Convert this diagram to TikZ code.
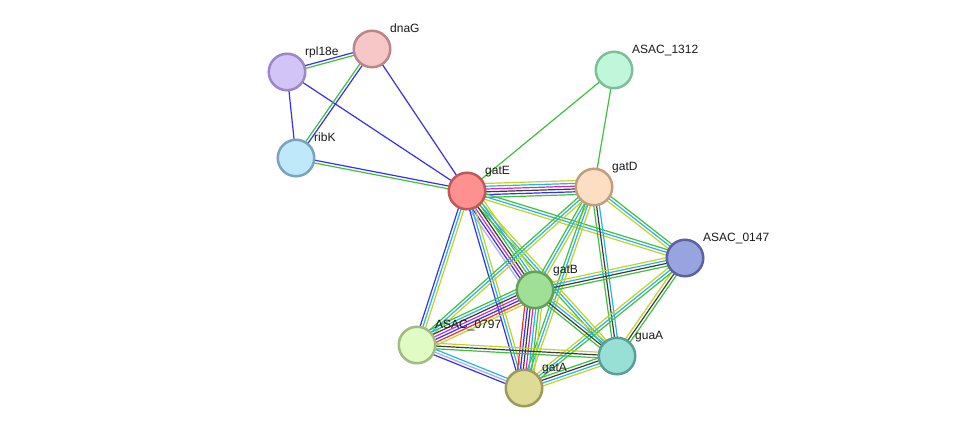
\documentclass[tikz,border=0pt]{standalone}
\usepackage{fontspec}
\setmainfont{Liberation Sans}
\usetikzlibrary{calc,backgrounds}
\definecolor{ng}{RGB}{62,192,62}
\definecolor{bl}{RGB}{50,50,240}
\definecolor{bk}{RGB}{60,60,60}
\definecolor{mg}{RGB}{210,40,210}
\definecolor{cy}{RGB}{40,180,220}
\definecolor{yg}{RGB}{190,212,40}
\definecolor{rd}{RGB}{250,40,40}
\definecolor{lv}{RGB}{170,170,250}
\tikzset{
  prot/.style={circle, minimum size=36.5pt, inner sep=0pt, line width=2.5pt},
  lbl/.style={anchor=base west, inner sep=0pt, font=\fontsize{12}{14}\selectfont, text=black!90},
  edge/.style={line width=1.2pt},
}
\newcommand\medge[3]{%
  \def\clist{#3}%
  \foreach \c [count=\i] in \clist {\xdef\ncount{\i}}%
  \foreach \c [count=\i] in \clist {%
    \pgfmathsetmacro\off{(\i-(\ncount+1)/2)*2.8}%
    \draw[edge,\c] ($(#1)!\off pt!90:(#2)$) -- ($(#2)!\off pt!-90:(#1)$);
  }}
\newcommand\prot[6]{%
  \definecolor{f#1}{HTML}{#4}\definecolor{d#1}{HTML}{#5}%
  \node[prot, fill=f#1, draw=d#1] (#1) at (#2,#3) {};
  \node[lbl] (l#1) at ($(#2,#3)+(18,-17)$) {#6};
}
\begin{document}
\begin{tikzpicture}[x=1pt,y=-1pt]
\useasboundingbox (0,0) rectangle (976,434);
\prot{rpl}{287}{72}{D3C4F8}{9A86C8}{rpl18e}
\prot{dna}{372}{49}{F7C6C6}{B88888}{dnaG}
\prot{a1312}{614}{70}{C0F7DA}{7DBF98}{ASAC\_1312}
\prot{rib}{296}{158}{BFE8FA}{7AA4BD}{ribK}
\prot{gatE}{467}{191}{FF9090}{C05858}{gatE}
\prot{gatD}{594}{187}{FDDEC2}{BF9F80}{gatD}
\prot{a0147}{685}{258}{98A4E0}{5A63A0}{ASAC\_0147}
\prot{gatB}{535}{290}{9FE096}{63A05A}{gatB}
\prot{a0797}{417}{345}{E0FCC4}{A0BC84}{ASAC\_0797}
\prot{guaA}{617}{356}{98E0D6}{5A9E98}{guaA}
\prot{gatA}{524}{388}{DEDB94}{9E9B5A}{gatA}
\begin{pgfonlayer}{background}
\fill[white] (0,0) rectangle (976,434);
\medge{rpl}{dna}{ng,bl}
\medge{rpl}{rib}{bl}
\medge{rpl}{gatE}{bl}
\medge{dna}{rib}{ng,bl}
\medge{dna}{gatE}{bl}
\medge{rib}{gatE}{ng,bl}
\medge{a1312}{gatE}{ng}
\medge{a1312}{gatD}{ng}
\medge{gatE}{gatD}{ng,bl,bk,mg,cy,yg}
\medge{gatE}{a0147}{yg,cy,ng}
\medge{gatE}{guaA}{ng,cy,yg}
\medge{gatE}{gatB}{lv,bl,mg,bk,ng,cy,yg}
\medge{gatE}{gatA}{bl,cy,yg}
\medge{gatE}{a0797}{bl,cy,yg}
\medge{gatD}{gatB}{ng,cy,yg}
\medge{gatD}{gatA}{ng,cy,yg}
\medge{gatD}{a0797}{ng,cy,yg}
\medge{gatD}{guaA}{ng,bk,cy}
\medge{gatD}{a0147}{yg,cy,ng}
\medge{a0147}{gatB}{yg,cy,bk,ng}
\medge{a0147}{guaA}{yg,bk,ng}
\medge{a0147}{gatA}{yg,cy,ng}
\medge{gatB}{a0797}{ng,cy,bk,mg,bl,rd,yg}
\medge{gatB}{gatA}{rd,bl,bk,mg,cy,ng,yg}
\medge{gatB}{guaA}{ng,bk,cy,yg}
\medge{a0797}{guaA}{ng,bk,yg}
\medge{a0797}{gatA}{bl,lv,cy}
\medge{guaA}{gatA}{ng,bk,cy,yg}
\end{pgfonlayer}
\end{tikzpicture}
\end{document}
